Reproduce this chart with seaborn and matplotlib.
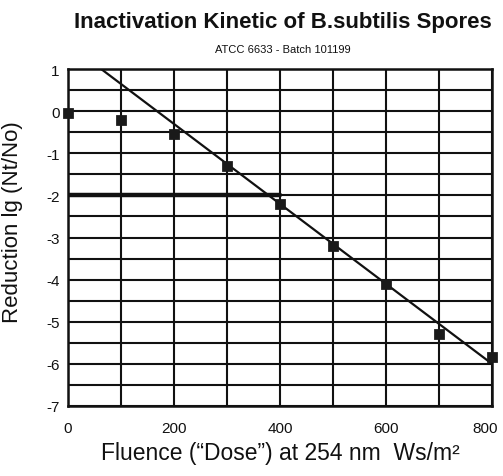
import matplotlib
matplotlib.use("Agg")
import matplotlib.pyplot as plt
from matplotlib.ticker import MultipleLocator
from matplotlib.transforms import ScaledTranslation
import seaborn as sns
import pandas as pd

# Measured log reductions of B. subtilis spores vs. UV fluence
fluence = [0, 100, 200, 300, 400, 500, 600, 700, 800]
log_reduction = [-0.05, -0.2, -0.55, -1.3, -2.2, -3.2, -4.1, -5.3, -5.85]

# Fitted inactivation line (end points)
fit_x = [63, 800]
fit_y = [1.0, -6.0]

# 2-log reduction reference up to 400 Ws/m²
ref_x = [0, 400]
ref_y = [-2, -2]

x_ticks = [0, 200, 400, 600, 800]
y_ticks = [1, 0, -1, -2, -3, -4, -5, -6, -7]

sns.set_theme(style="white")
plt.rcParams["font.family"] = ["Liberation Sans", "DejaVu Sans"]

fig = plt.figure(figsize=(5.03, 4.77), dpi=100)
ax = fig.add_axes([0.135, 0.147, 0.843, 0.706])

df = pd.DataFrame({"x": fluence, "y": log_reduction})
fit = pd.DataFrame({"x": fit_x, "y": fit_y})
ref = pd.DataFrame({"x": ref_x, "y": ref_y})

ax.set_xlim(0, 800)
ax.set_ylim(-7, 1)

sns.lineplot(data=ref, x="x", y="y", ax=ax, color="#111111", linewidth=3.2)
sns.lineplot(data=fit, x="x", y="y", ax=ax, color="#111111", linewidth=1.6)
sns.scatterplot(data=df, x="x", y="y", ax=ax, marker="s", s=48,
                color="#1a1a1a", edgecolor="#1a1a1a", zorder=5, clip_on=False)

ax.set_xticks(x_ticks)
ax.set_xticklabels([str(v) for v in x_ticks])
ax.set_yticks(y_ticks)
ax.set_yticklabels([str(v) for v in y_ticks])
# half-unit grid in y, 100 Ws/m² grid in x
ax.yaxis.set_minor_locator(MultipleLocator(0.5))
ax.xaxis.set_minor_locator(MultipleLocator(100))
ax.grid(True, which="both", color="#111111", linewidth=1.5)
ax.set_axisbelow(True)
ax.tick_params(axis="both", which="both", length=0, labelsize=11, colors="#111111")
ax.tick_params(axis="x", pad=11)
ax.tick_params(axis="y", pad=6)

# nudge the rightmost x label so it stays inside the figure
last = ax.get_xticklabels()[-1]
last.set_transform(last.get_transform() + ScaledTranslation(-5 / 72, 0, fig.dpi_scale_trans))

for s in ax.spines.values():
    s.set_color("#111111")
    s.set_linewidth(1.8)

ax.set_xlabel("Fluence (\u201cDose\u201d) at 254 nm  Ws/m\u00b2", fontsize=16.5,
              color="#111111", labelpad=4)
ax.set_ylabel("Reduction lg (Nt/No)", fontsize=16, color="#111111")
ax.yaxis.set_label_coords(-0.105, 0.55)

fig.text(0.563, 0.953, "Inactivation Kinetic of B.subtilis Spores", ha="center",
         va="center", fontsize=16, fontweight="bold", color="#111111")
fig.text(0.563, 0.895, "ATCC 6633 - Batch 101199", ha="center", va="center",
         fontsize=8, color="#111111")

fig.savefig("out.png", dpi=100, facecolor="white")
